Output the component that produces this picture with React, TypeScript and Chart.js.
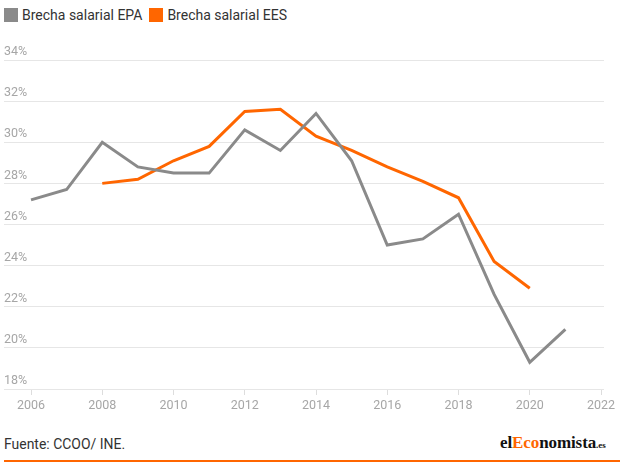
import React, { useEffect, useRef } from "react";
import { Chart, registerables } from "chart.js";

Chart.register(...registerables);

const years = [2006, 2007, 2008, 2009, 2010, 2011, 2012, 2013, 2014, 2015, 2016, 2017, 2018, 2019, 2020, 2021];
const epa = [27.2, 27.7, 30.0, 28.8, 28.5, 28.5, 30.6, 29.6, 31.4, 29.1, 25.0, 25.3, 26.5, 22.6, 19.3, 20.9];
const eesYears = [2008, 2009, 2010, 2011, 2012, 2013, 2014, 2015, 2016, 2017, 2018, 2019, 2020];
const ees = [28.0, 28.2, 29.1, 29.8, 31.5, 31.6, 30.3, 29.6, 28.8, 28.1, 27.3, 24.2, 22.9];
const xTicks = [2006, 2008, 2010, 2012, 2014, 2016, 2018, 2020, 2022];
const yTicks = [18, 20, 22, 24, 26, 28, 30, 32, 34];

const GRAY = "#8a8a8a";
const ORANGE = "#ff6600";

export default function App() {
  const ref = useRef<HTMLCanvasElement | null>(null);

  useEffect(() => {
    document.body.style.margin = "0";
    const ctx = ref.current!;
    const chart = new Chart(ctx, {
      type: "line",
      data: {
        datasets: [
          {
            label: "Brecha salarial EPA",
            data: years.map((y, i) => ({ x: y, y: epa[i] })),
            borderColor: GRAY,
            backgroundColor: GRAY,
            borderWidth: 3,
            pointRadius: 0,
            tension: 0,
          },
          {
            label: "Brecha salarial EES",
            data: eesYears.map((y, i) => ({ x: y, y: ees[i] })),
            borderColor: ORANGE,
            backgroundColor: ORANGE,
            borderWidth: 3,
            pointRadius: 0,
            tension: 0,
          },
        ],
      },
      options: {
        animation: false,
        responsive: false,
        layout: { padding: { top: 60, left: 4, right: 36, bottom: 0 } },
        plugins: { legend: { display: false }, tooltip: { enabled: false } },
        scales: {
          x: {
            type: "linear",
            min: 2005.242,
            max: 2022.084,
            afterBuildTicks: (s: any) => {
              s.ticks = xTicks.map((v) => ({ value: v }));
            },
            afterFit: (s: any) => {
              s.height = 31;
            },
            grid: { drawOnChartArea: false, drawTicks: true, tickLength: 6, color: "#dddddd" },
            border: { display: false },
            ticks: {
              color: "#a6a6a6",
              font: { family: "Roboto", size: 12.5 },
              padding: 3,
              maxRotation: 0,
              autoSkip: false,
              callback: (v: any) => String(v),
            },
          },
          y: {
            min: 18,
            max: 34,
            afterBuildTicks: (s: any) => {
              s.ticks = yTicks.map((v) => ({ value: v }));
            },
            afterFit: (s: any) => {
              s.width = 0;
            },
            grid: { color: "#e6e6e6", drawTicks: false },
            border: { display: false },
            ticks: {
              mirror: true,
              padding: 0,
              labelOffset: -8,
              color: "#a6a6a6",
              font: { family: "Roboto", size: 12.5 },
              callback: (v: any) => v + "%",
            },
          },
        },
      },
    });
    return () => chart.destroy();
  }, []);

  const legendItem = (color: string, text: string) => (
    <div style={{ display: "flex", alignItems: "center", marginRight: 7 }}>
      <div style={{ width: 14, height: 14, background: color, marginRight: 4 }} />
      <span>{text}</span>
    </div>
  );

  return (
    <div style={{ position: "absolute", left: 0, top: 0, width: 640, height: 464, background: "#fff", fontFamily: "Roboto" }}>
      <div style={{ position: "absolute", left: 4, top: 6, display: "flex", fontSize: 14, color: "#333", lineHeight: "18px" }}>
        {legendItem(GRAY, "Brecha salarial EPA")}
        {legendItem(ORANGE, "Brecha salarial EES")}
      </div>
      <canvas ref={ref} width={640} height={420} style={{ position: "absolute", left: 0, top: 0, width: 640, height: 420 }} />
      <div
        style={{
          position: "absolute",
          left: 4,
          top: 435,
          fontSize: 15,
          color: "#333",
          transform: "scaleX(0.93)",
          transformOrigin: "left top",
          whiteSpace: "nowrap",
        }}
      >
        Fuente: CCOO/ INE.
      </div>
      <div
        style={{
          position: "absolute",
          left: 500,
          top: 433,
          fontFamily: "'Liberation Serif'",
          fontWeight: "bold",
          fontSize: 17,
          color: "#111",
          whiteSpace: "nowrap",
          letterSpacing: -0.1,
        }}
      >
        el<span style={{ color: ORANGE }}>Eco</span>nomista<span style={{ fontSize: 9 }}>.es</span>
      </div>
      <div style={{ position: "absolute", left: 4, top: 460, width: 616, height: 2, background: ORANGE }} />
    </div>
  );
}
